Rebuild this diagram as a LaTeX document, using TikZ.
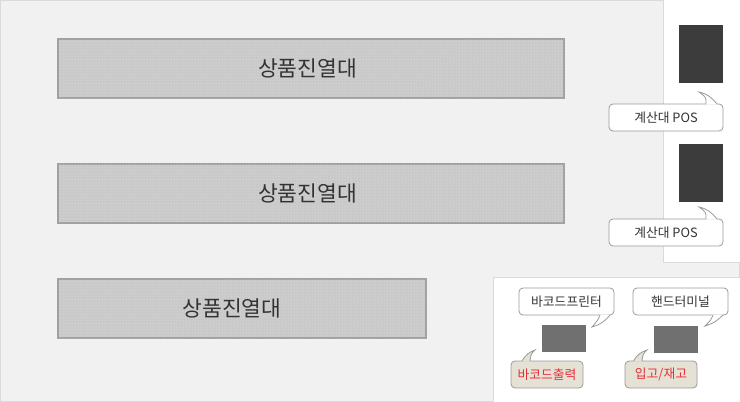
\documentclass[tikz,border=0pt]{standalone}
\usepackage{fontspec}
\setmainfont{Noto Sans CJK KR}
\usetikzlibrary{patterns,calc}
\definecolor{bgcol}{HTML}{F0F1F0}
\definecolor{edgecol}{HTML}{DADADA}
\definecolor{shelffill}{HTML}{C9C9C9}
\definecolor{shelfdot}{HTML}{E6E6E6}
\definecolor{shelfedge}{HTML}{A0A0A0}
\definecolor{txtcol}{HTML}{333333}
\definecolor{calledge}{HTML}{9A9A9A}
\definecolor{beige}{HTML}{E6E1D5}
\definecolor{redtxt}{HTML}{E4303A}
\definecolor{darkbox}{HTML}{3C3C3C}
\definecolor{midbox}{HTML}{707070}
\tikzset{
  shelf/.style={draw=shelfedge, line width=1.2pt, fill=shelffill, postaction={pattern=dots, pattern color=shelfdot}},
  shelftext/.style={font=\fontsize{21.5}{21.5}\selectfont, text=txtcol},
  callout/.style={draw=calledge, line width=0.8pt, fill=white, rounded corners=4pt, inner sep=0pt, font=\fontsize{12.8}{12.8}\selectfont, text=txtcol},
  beigecall/.style={callout, fill=beige, text=redtxt},
  panel/.style={draw=edgecol, line width=1pt, fill=white},
  tailline/.style={draw=calledge, line width=0.8pt}
}
\begin{document}
\begin{tikzpicture}[x=1pt, y=-1pt]
\useasboundingbox (0,0) rectangle (740,402);
% background
\draw[fill=bgcol, draw=edgecol, line width=1pt] (0.5,0.5) rectangle (739.5,401.5);
% panels
\draw[panel] (663,-1) rectangle (741,262);
\draw[panel] (493,277) rectangle (741,403);
% shelves
\draw[shelf] (58,39) rectangle (564,98);
\draw[shelf] (58,164) rectangle (564,223);
\draw[shelf] (58,279) rectangle (426,338);
\node[shelftext] (s1) at (307.5,68.5) {상품진열대};
\node[shelftext] (s2) at (307.5,193.5) {상품진열대};
\node[shelftext] (s3) at (232,308.5) {상품진열대};
% dark POS boxes
\fill[darkbox] (679,25) rectangle (723,83);
\fill[darkbox] (679,144) rectangle (723,202);
% gray device boxes
\fill[midbox] (542,325) rectangle (586,352);
\fill[midbox] (654,326) rectangle (698,353);
% POS callouts
\node[callout, minimum width=114pt, minimum height=27pt] (pos1) at (666,117.5) {계산대 POS};
\fill[white] (706,104.5) .. controls (706,97) .. (699,92) .. controls (708,94) and (712,98) .. (717,104.5) -- cycle;
\draw[tailline] (706,104) .. controls (706,97) .. (699,92) .. controls (708,94) and (712,98) .. (717,104);
\node[callout, minimum width=114pt, minimum height=27pt] (pos2) at (666,232.5) {계산대 POS};
\fill[white] (706,219.5) .. controls (706,212) .. (699,207) .. controls (708,209) and (712,213) .. (717,219.5) -- cycle;
\draw[tailline] (706,219) .. controls (706,212) .. (699,207) .. controls (708,209) and (712,213) .. (717,219);
% barcode printer callout
\node[callout, minimum width=95pt, minimum height=27pt] (bp) at (566.5,301.5) {바코드프린터};
\fill[white] (600,314.5) .. controls (598,320) .. (592,327) .. controls (602,324) and (606,320) .. (610,314.5) -- cycle;
\draw[tailline] (600,315) .. controls (598,320) .. (592,327) .. controls (602,324) and (606,320) .. (610,315);
% handy terminal callout
\node[callout, minimum width=95pt, minimum height=27pt] (ht) at (680.5,301.5) {핸드터미널};
\fill[white] (713,314.5) .. controls (711,320) .. (705,326) .. controls (715,323) and (719,319) .. (723,314.5) -- cycle;
\draw[tailline] (713,315) .. controls (711,320) .. (705,326) .. controls (715,323) and (719,319) .. (723,315);
% beige callouts
\node[beigecall, minimum width=72pt, minimum height=27pt] (bo) at (547,374.5) {바코드출력};
\fill[beige] (522,361.5) .. controls (526,354) and (530,352) .. (535,350) .. controls (531,354) .. (530,361.5) -- cycle;
\draw[tailline] (522,361) .. controls (526,354) and (530,352) .. (535,350) .. controls (531,354) .. (530,361);
\node[beigecall, minimum width=72pt, minimum height=27pt] (io) at (661,374.5) {입고/재고};
\fill[beige] (633.5,361.5) .. controls (637.5,354) and (641.5,352) .. (647,350) .. controls (643,354) .. (642,361.5) -- cycle;
\draw[tailline] (633.5,361) .. controls (637.5,354) and (641.5,352) .. (647,350) .. controls (643,354) .. (642,361);
\end{tikzpicture}
\end{document}
